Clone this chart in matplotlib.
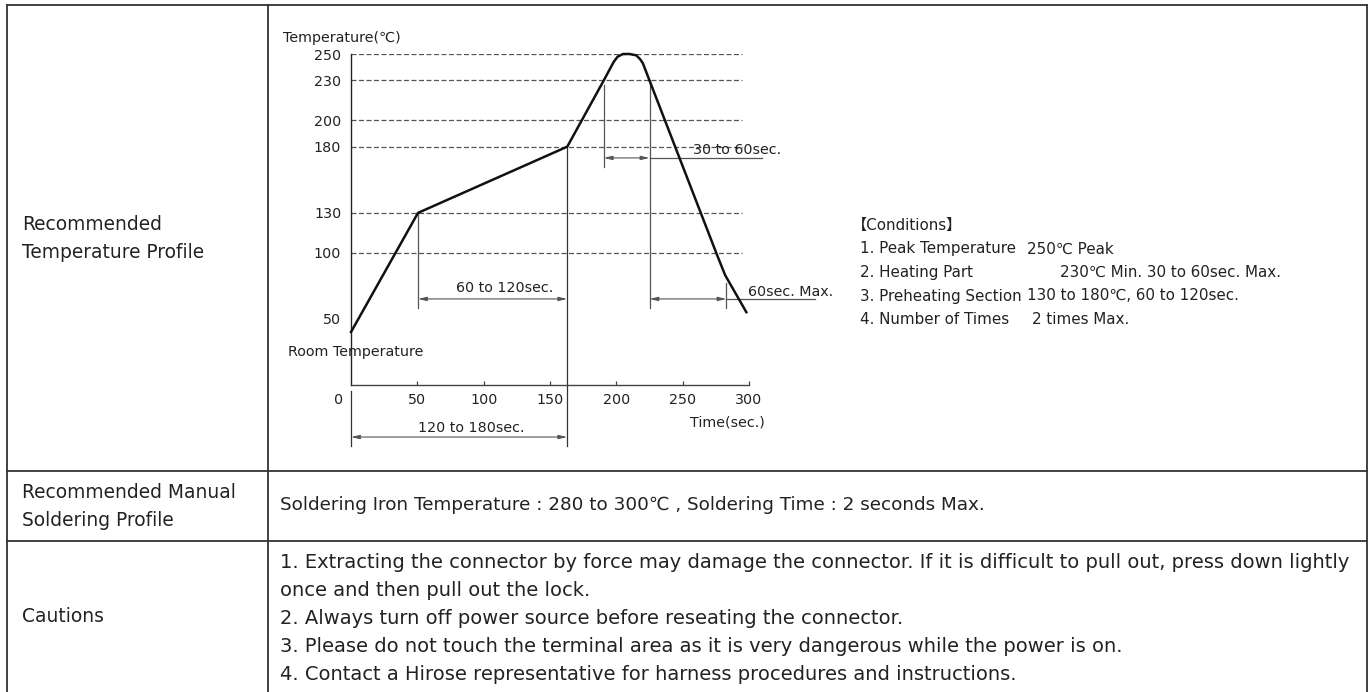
import matplotlib
matplotlib.use("Agg")
import matplotlib.pyplot as plt

plt.rcParams['font.family'] = ['DejaVu Sans', 'Noto Sans CJK JP']

# ---------------- data ----------------
profile_time = [0, 50.5, 163, 174, 190.5, 198, 201, 205, 210, 215, 218, 220, 225, 276, 282, 298]
profile_temp = [40, 130, 180, 200, 230, 244, 248, 250, 250, 249, 246, 243, 230, 98, 83, 55]

grid_levels = [100, 130, 180, 200, 230, 250]
y_ticks = [50, 100, 130, 180, 200, 230, 250]
x_ticks = [50, 100, 150, 200, 250, 300]

preheat_start, preheat_end = 50.5, 163
heat_start, heat_end = 190.5, 225
cool_mark = 283

conditions_labels = ["1. Peak Temperature", "2. Heating Part", "3. Preheating Section", "4. Number of Times"]
conditions_values = ["250℃ Peak", "230℃ Min. 30 to 60sec. Max.", "130 to 180℃, 60 to 120sec.", "2 times Max."]

row_titles = [["Recommended", "Temperature Profile"], ["Recommended Manual", "Soldering Profile"], ["Cautions"]]
manual_text = "Soldering Iron Temperature : 280 to 300℃ , Soldering Time : 2 seconds Max."
caution_lines = [
    "1. Extracting the connector by force may damage the connector. If it is difficult to pull out, press down lightly",
    "once and then pull out the lock.",
    "2. Always turn off power source before reseating the connector.",
    "3. Please do not touch the terminal area as it is very dangerous while the power is on.",
    "4. Contact a Hirose representative for harness procedures and instructions.",
]

# ---------------- figure ----------------
W, H = 1371, 692
fig = plt.figure(figsize=(W / 100, H / 100), dpi=100)
fig.patch.set_facecolor('white')

tab = fig.add_axes([0, 0, 1, 1])
tab.set_xlim(0, W)
tab.set_ylim(H, 0)
tab.axis('off')

lc = '#333333'
lw = 1.3
tab.plot([7, 7], [5, H], color=lc, lw=lw)
tab.plot([1367, 1367], [5, H], color=lc, lw=lw)
tab.plot([268, 268], [5, H], color=lc, lw=lw)
tab.plot([7, 1367], [5, 5], color=lc, lw=lw)
tab.plot([7, 1367], [471, 471], color=lc, lw=lw)
tab.plot([7, 1367], [541, 541], color=lc, lw=lw)

tfs = 13.4
tc = '#222222'
tab.text(22, 224, row_titles[0][0], fontsize=tfs, color=tc, va='center')
tab.text(22, 252, row_titles[0][1], fontsize=tfs, color=tc, va='center')
tab.text(22, 492, row_titles[1][0], fontsize=tfs, color=tc, va='center')
tab.text(22, 520, row_titles[1][1], fontsize=tfs, color=tc, va='center')
tab.text(22, 616, row_titles[2][0], fontsize=tfs, color=tc, va='center')

tab.text(280, 505, manual_text, fontsize=13.2, color=tc, va='center')
for i, line in enumerate(caution_lines):
    tab.text(280, 563 + 27.8 * i, line, fontsize=14.05, color=tc, va='center')

cfs = 10.9
tab.text(852, 225, "【Conditions】", fontsize=cfs, color=tc, va='center')
val_x = [1027, 1060, 1027, 1032]
for i, (lab, val) in enumerate(zip(conditions_labels, conditions_values)):
    y = 249 + 23.5 * i
    tab.text(860, y, lab, fontsize=cfs, color=tc, va='center')
    tab.text(val_x[i], y, val, fontsize=cfs, color=tc, va='center')

# ---------------- chart ----------------
ax = fig.add_axes([351 / W, 1 - 385 / H, 398 / W, 331 / H])
ax.set_xlim(0, 300)
ax.set_ylim(0, 250)
ax.patch.set_alpha(0)
for s in ['top', 'right']:
    ax.spines[s].set_visible(False)
ax.spines['left'].set_color('#222222')
ax.spines['bottom'].set_color('#444444')
ax.spines['left'].set_linewidth(1.0)
ax.spines['bottom'].set_linewidth(1.0)

afs = 10.3
ax.set_xticks(x_ticks)
ax.set_xticklabels([str(v) for v in x_ticks], fontsize=afs, color=tc)
ax.tick_params(axis='x', direction='in', length=3, width=0.9, color='#444444', pad=6)
ax.set_yticks(y_ticks)
ax.set_yticklabels([str(v) for v in y_ticks], fontsize=afs, color=tc)
ax.tick_params(axis='y', length=0, pad=7)

ax.hlines(grid_levels, 0, 295, colors='#555555', linestyles=(0, (4, 2)), lw=0.9)

ax.plot(profile_time, profile_temp, color='#111111', lw=1.8, solid_joinstyle='round', clip_on=False, zorder=5)

gc = '#555555'
vlw = 0.9
ax.plot([preheat_start, preheat_start], [130, 58], color=gc, lw=vlw, clip_on=False)
ax.plot([preheat_end, preheat_end], [180, -46], color='#333333', lw=vlw, clip_on=False)
ax.plot([heat_start, heat_start], [226.5, 165], color=gc, lw=vlw, clip_on=False)
ax.plot([heat_end, heat_end], [230, 58], color=gc, lw=vlw, clip_on=False)
ax.plot([cool_mark, cool_mark], [77, 58], color=gc, lw=vlw, clip_on=False)
ax.plot([0, 0], [-4.5, -46], color='#333333', lw=vlw, clip_on=False)

arrow = dict(arrowstyle='<|-|>,head_length=0.5,head_width=0.12', color=gc, lw=0.8, shrinkA=0, shrinkB=0)


def dim(x1, x2, y):
    ax.annotate('', xy=(x2, y), xytext=(x1, y), arrowprops=arrow, annotation_clip=False)


dim(preheat_start, preheat_end, 65)
dim(heat_start, heat_end, 171.5)
ax.plot([heat_end, 310], [171.5, 171.5], color=gc, lw=0.9, clip_on=False)
dim(heat_end, cool_mark, 65)
ax.plot([cool_mark, 350], [65, 65], color=gc, lw=0.9, clip_on=False)
dim(0, preheat_end, -39.3)

ax.text(116, 73, "60 to 120sec.", fontsize=afs, color=tc, ha='center', va='center')
ax.text(91, -32.5, "120 to 180sec.", fontsize=afs, color=tc, ha='center', va='center')
ax.text(258, 177.5, "30 to 60sec.", fontsize=afs, color=tc, ha='left', va='center')
ax.text(299, 70, "60sec. Max.", fontsize=afs, color=tc, ha='left', va='center')
ax.text(-51.3, 262, "Temperature(℃)", fontsize=afs, color=tc, ha='left', va='center', clip_on=False)
ax.text(-47.5, 25, "Room Temperature", fontsize=afs, color=tc, ha='left', va='center')
ax.text(284, -28, "Time(sec.)", fontsize=afs, color=tc, ha='center', va='center')
ax.text(-6, -11.3, "0", fontsize=afs, color=tc, ha='right', va='center')

fig.savefig('out.png', dpi=100, facecolor='white')
